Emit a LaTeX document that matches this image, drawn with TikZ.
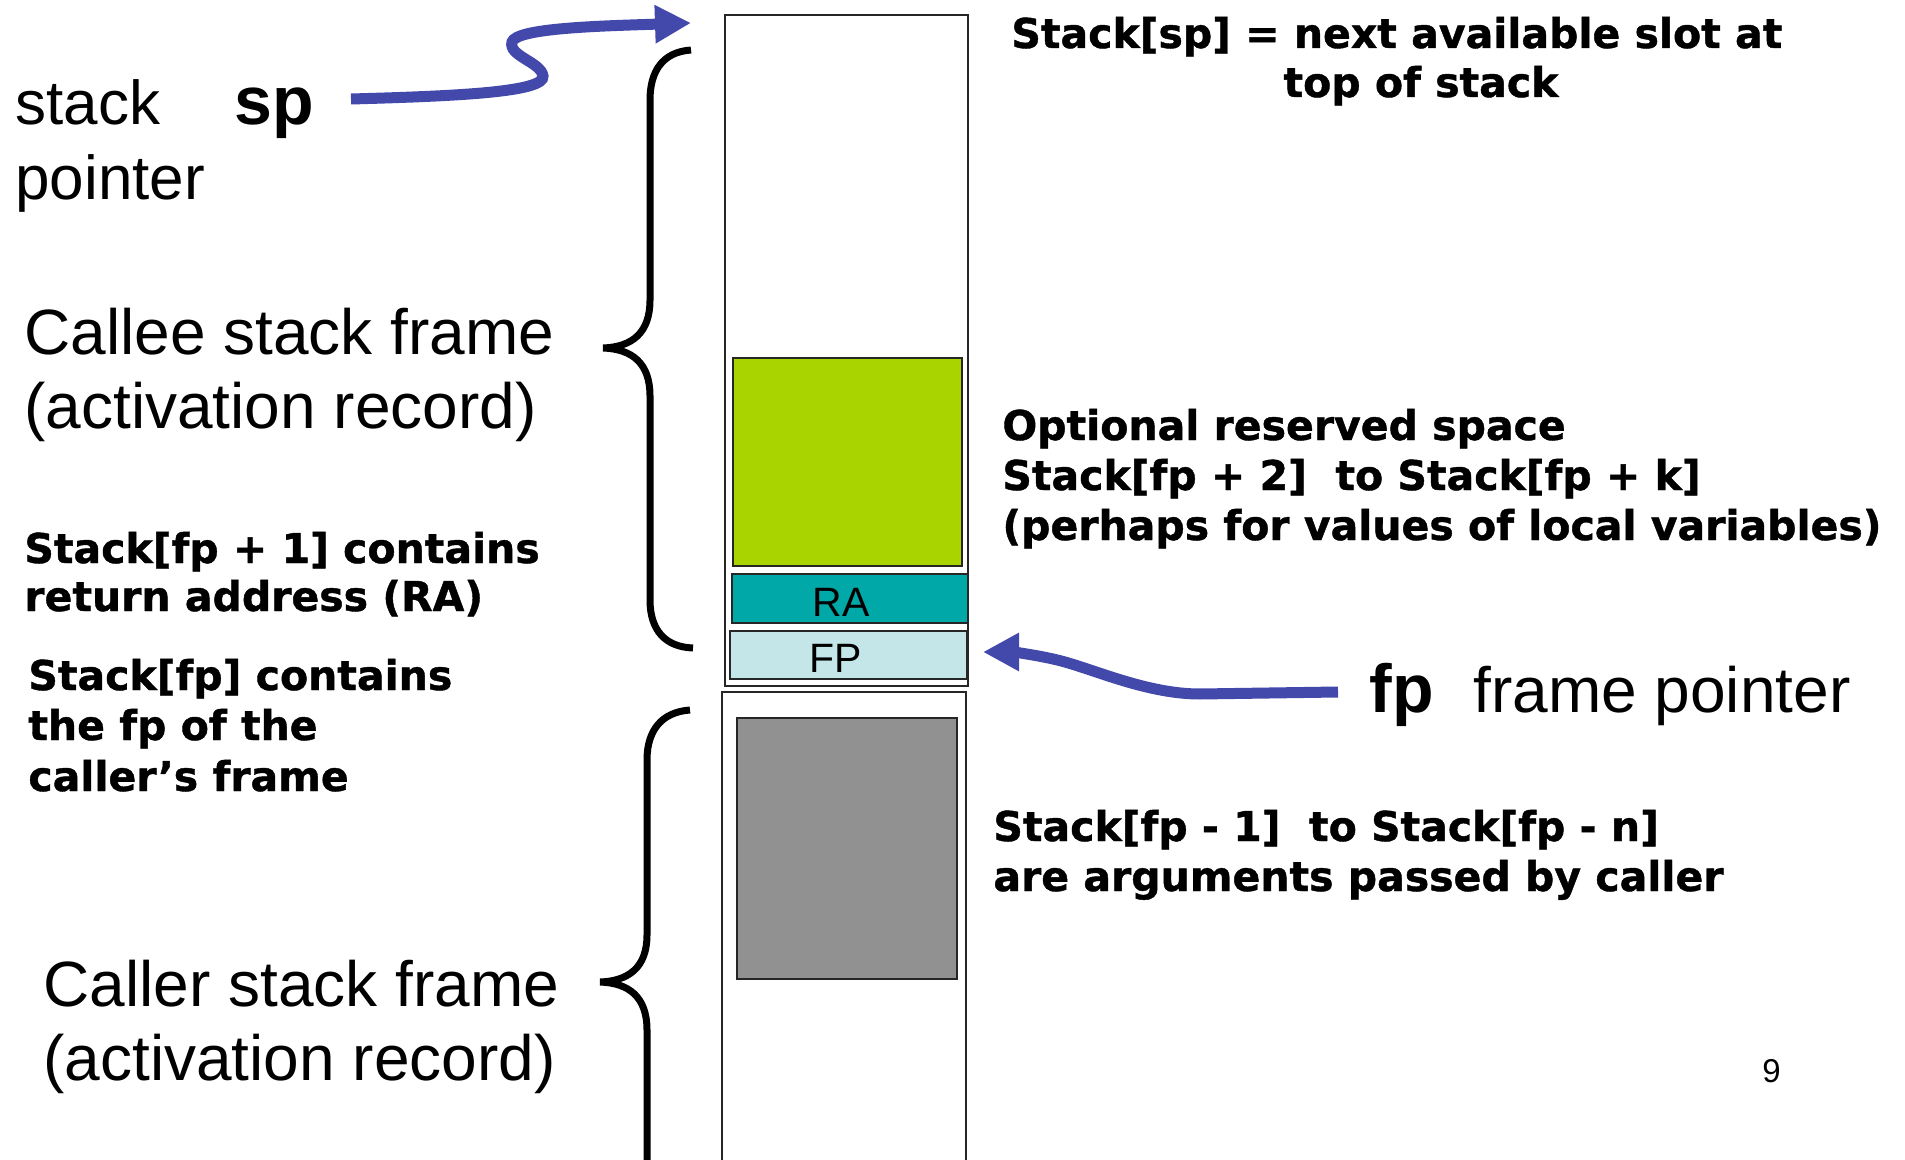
\documentclass[tikz,border=0pt]{standalone}
\usepackage{fontspec}
\setmainfont{Liberation Sans}
\newfontfamily\heavy{DejaVu Sans}[BoldFeatures={FakeBold=1}]
\usetikzlibrary{arrows.meta}
\definecolor{arrowblue}{RGB}{67,73,170}
\definecolor{optgreen}{RGB}{170,212,0}
\definecolor{rateal}{RGB}{0,168,168}
\definecolor{fplight}{RGB}{196,230,232}
\definecolor{arggray}{RGB}{145,145,145}
\begin{document}
\begin{tikzpicture}[x=0.5pt,y=-0.5pt,
  lbl/.style={anchor=base west, inner sep=0pt},
  big/.style={lbl, font=\fontsize{32}{38}\selectfont},
  mid/.style={lbl, font=\fontsize{31}{37}\selectfont},
  ptrlbl/.style={lbl, font=\bfseries\fontsize{34}{40}\selectfont},
  hv/.style={lbl, font=\heavy\bfseries\fontsize{20.5}{24}\selectfont},
  celltext/.style={anchor=base, inner sep=0pt, font=\fontsize{20.5}{24}\selectfont},
  column/.style={draw=black!85, line width=1pt},
  cellbox/.style={draw=black!85, line width=1pt},
  brace/.style={draw=black, line width=3.5pt},
  ptr/.style={draw=arrowblue, line width=5.5pt, -{Triangle[length=18pt,width=18pt]}}
]
\useasboundingbox (0,0) rectangle (1905,1160);
\fill[white] (0,0) rectangle (1905,1160);

% stack column
\draw[column] (725,15) rectangle (968,686);
\draw[cellbox, fill=optgreen] (733,358) rectangle (962,566);
\draw[cellbox, fill=rateal] (732,574) rectangle (968,623);
\draw[cellbox, fill=fplight] (730,631) rectangle (967,679);
\draw[column] (722,1165) -- (722,692) -- (966,692) -- (966,1165);
\draw[cellbox, fill=arggray] (737,718) rectangle (957,979);
\node[celltext] (ra) at (841,616) {RA};
\node[celltext] (fpcell) at (836,672) {FP};

% braces
\draw[brace] (691,50) .. controls (662,52) and (650,72) .. (650,100) -- (650,300)
  .. controls (650,333) and (632,347) .. (603,348)
  .. controls (632,349) and (650,363) .. (650,396) -- (650,600)
  .. controls (650,630) and (665,647) .. (693,648);
\draw[brace] (690,710) .. controls (662,712) and (647,730) .. (647,760) -- (647,935)
  .. controls (647,968) and (628,981) .. (600,982)
  .. controls (628,983) and (647,996) .. (647,1030) -- (647,1170);

% left texts
\node[mid] (stack) at (15,125) {stack};
\node[mid] (pointer) at (15,200) {pointer};
\node[ptrlbl] (sp) at (234,125) {sp};
\node[big] (callee1) at (24,355) {Callee stack frame};
\node[big] (callee2) at (24,429) {(activation record)};
\node[hv] (ra1) at (24,563) {Stack[fp + 1] contains};
\node[hv] (ra2) at (24,611) {return address (RA)};
\node[hv] (fpc1) at (28,690) {Stack[fp] contains};
\node[hv] (fpc2) at (28,740) {the fp of the};
\node[hv] (fpc3) at (28,791) {caller’s frame};
\node[big] (caller1) at (43,1006) {Caller stack frame};
\node[big] (caller2) at (43,1080) {(activation record)};

% right texts
\node[hv] (top1) at (1011,48) {Stack[sp] = next available slot at};
\node[hv, anchor=base] (top2) at (1421,97) {top of stack};
\node[hv] (opt1) at (1002,440) {Optional reserved space};
\node[hv] (opt2) at (1002,490) {Stack[fp + 2]\ \ to Stack[fp + k]};
\node[hv] (opt3) at (1002,540) {(perhaps for values of local variables)};
\node[ptrlbl] (fp) at (1369,712) {fp};
\node[big] (fpname) at (1473,712) {frame pointer};
\node[hv] (arg1) at (993,841) {Stack[fp - 1]\ \ to Stack[fp - n]};
\node[hv] (arg2) at (993,891) {are arguments passed by caller};
\node[lbl, font=\fontsize{16.5}{20}\selectfont] (pagenum) at (1762,1082) {9};

% pointer arrows
\coordinate (spstart) at (351,99);
\coordinate (sptip) at (691,23);
\coordinate (fpstart) at (1338,692);
\coordinate (fptip) at (983,652);
\draw[ptr] (spstart) .. controls (460,96) and (545,92) .. (543,76)
  .. controls (541,62) and (508,56) .. (512,42)
  .. controls (516,28) and (600,26) .. (sptip);
\draw[ptr] (fpstart) -- (1200,694) .. controls (1150,694) and (1100,672) .. (1065,662)
  .. controls (1040,655) and (1010,652) .. (fptip);
\end{tikzpicture}
\end{document}
